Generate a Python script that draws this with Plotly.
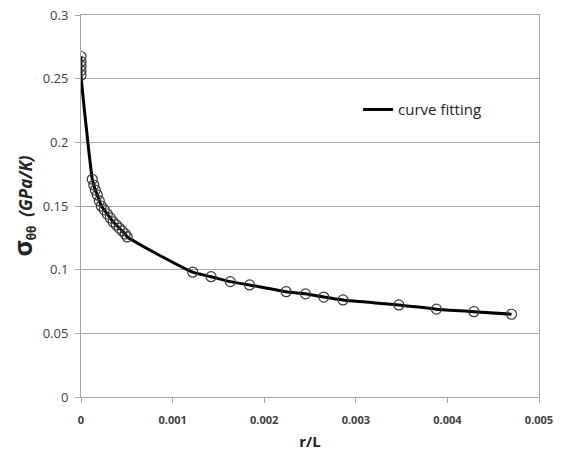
import plotly.graph_objects as go

# Data
r_over_L = [0.0, 0.0, 0.0, 0.0, 0.0,
            0.000123, 0.00014, 0.000156, 0.000178, 0.0002, 0.000221, 0.000254,
            0.000287, 0.00032, 0.000352, 0.000385, 0.000418, 0.00045, 0.000483, 0.000505,
            0.00122, 0.00142, 0.00163, 0.00184, 0.00224, 0.00245, 0.00265, 0.00286,
            0.00347, 0.00388, 0.00429, 0.0047]
sigma = [0.2674, 0.2635, 0.2600, 0.2563, 0.2527,
         0.171, 0.1665, 0.1625, 0.1587, 0.154, 0.150, 0.147,
         0.1437, 0.1406, 0.1375, 0.1351, 0.1327, 0.1304, 0.128, 0.1257,
         0.098, 0.0945, 0.0906, 0.088, 0.0827, 0.081, 0.0785, 0.0762,
         0.0723, 0.069, 0.067, 0.065]

x_ticks = [0, 0.001, 0.002, 0.003, 0.004, 0.005]
x_tick_labels = ["0", "0.001", "0.002", "0.003", "0.004", "0.005"]
y_ticks = [0, 0.05, 0.1, 0.15, 0.2, 0.25, 0.3]
y_tick_labels = ["0", "0.05", "0.1", "0.15", "0.2", "0.25", "0.3"]

fig = go.Figure()
fig.add_trace(go.Scatter(
    x=r_over_L, y=sigma, mode="lines", name="curve fitting",
    line=dict(color="black", width=3, shape="spline", smoothing=0.6),
))
fig.add_trace(go.Scatter(
    x=r_over_L, y=sigma, mode="markers", showlegend=False,
    marker=dict(symbol="circle-open", size=10, color="#3a3a3a", line=dict(width=1.2)),
))

fig.update_layout(
    width=573, height=461,
    margin=dict(l=81, r=34, t=15, b=64),
    paper_bgcolor="white", plot_bgcolor="white",
    font=dict(family="Open Sans, Liberation Sans, sans-serif", color="#404040"),
    showlegend=True,
    legend=dict(x=0.605, y=0.795, xanchor="left", yanchor="top",
                font=dict(size=15, color="#222222"), bgcolor="rgba(0,0,0,0)",
                itemwidth=30),
    xaxis=dict(
        range=[0, 0.005], tickvals=x_ticks, ticktext=x_tick_labels,
        showgrid=False, zeroline=False, automargin=False,
        showline=True, linecolor="#a6a6a6", linewidth=1, mirror=True,
        ticks="outside", ticklen=5, tickcolor="#a6a6a6", ticklabelstandoff=8,
        ticklabeloverflow="allow",
        tickfont=dict(size=11, family="Open Sans, sans-serif", color="#404040", weight="bold"),
        title=dict(text="<b>r/L</b>", font=dict(size=15, color="#222222"), standoff=10),
    ),
    yaxis=dict(
        range=[0, 0.3], tickvals=y_ticks, ticktext=y_tick_labels,
        showgrid=True, gridcolor="#a6a6a6", gridwidth=1, zeroline=False, automargin=False,
        showline=True, linecolor="#a6a6a6", linewidth=1, mirror=True,
        ticks="outside", ticklen=5, tickcolor="#a6a6a6", ticklabelstandoff=4,
        ticklabeloverflow="allow",
        tickfont=dict(size=13, color="#404040"),
        title=dict(text="<b><span style='font-size:25px'>σ</span><span style='font-size:17px'><sub>θθ</sub></span>  <i>(GPa/K)</i></b>",
                   font=dict(size=17, color="#222222"), standoff=5),
    ),
)

fig.write_html("out.html", config={"displayModeBar": False},
               post_script="document.body.style.margin='0';")
